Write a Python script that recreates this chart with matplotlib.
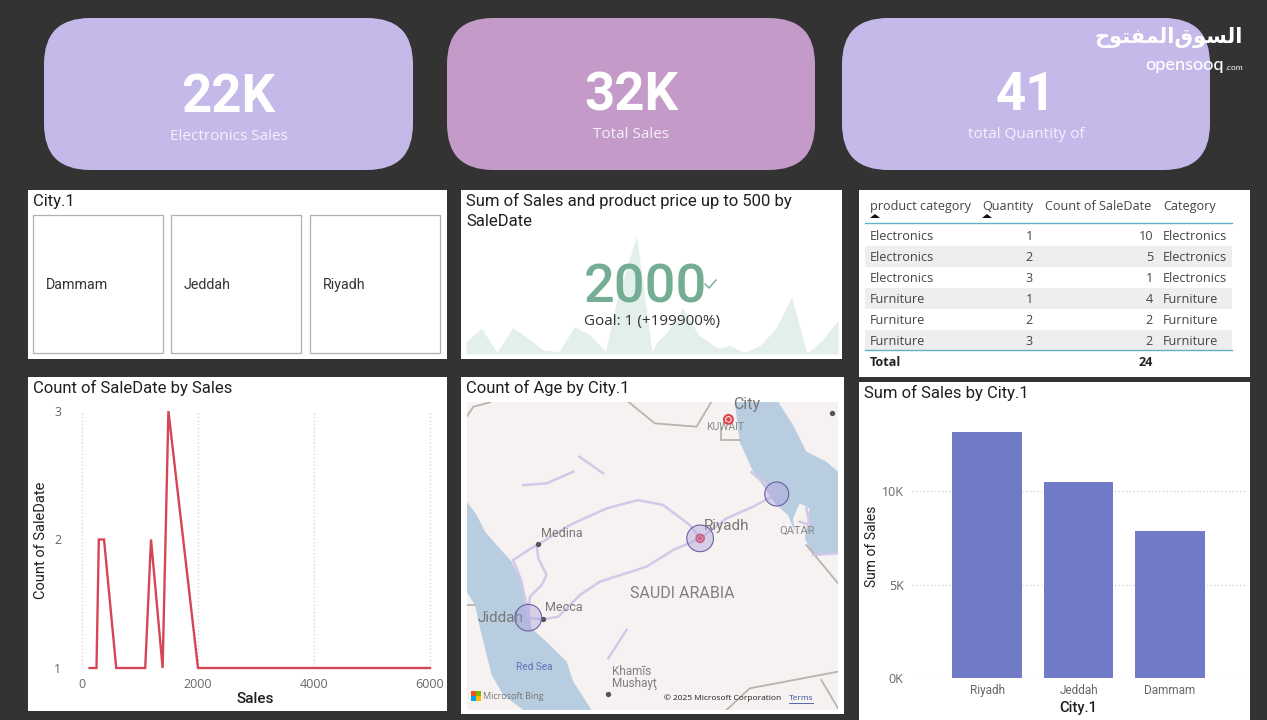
# -*- coding: utf-8 -*-
import matplotlib
matplotlib.use("Agg")
import matplotlib.pyplot as plt
from matplotlib.patches import FancyBboxPatch, Rectangle, Polygon

W, H = 1267, 720

# kpi cards
kpi_values = ["22K", "32K", "41"]
kpi_labels = ["Electronics Sales", "Total Sales", "total Quantity of"]

cities = ["Dammam", "Jeddah", "Riyadh"]

# sparkline behind the 2000 card
spark_days = [0, 4, 8, 12, 16, 20, 24, 28, 32, 36, 39, 44, 48, 49, 52, 56, 60, 65, 68, 72, 76, 80, 84, 88, 92, 96]
spark_sales = [630, 1310, 85, 1340, 800, 200, 120, 1390, 970, 120, 2840, 5980, 120, 540, 1140, 2330, 970, 290,
               425, 85, 460, 1310, 2920, 35, 710, 1730]

# table
table_header = ["product category", "Quantity", "Count of SaleDate", "Category"]
table_cat = ["Electronics", "Electronics", "Electronics", "Furniture", "Furniture", "Furniture"]
table_qty = [1, 2, 3, 1, 2, 3]
table_count = [10, 5, 1, 4, 2, 2]
table_total = 24

# line chart
line_sales = [130, 250, 290, 380, 590, 1090, 1190, 1390, 1490, 2000, 6000]
line_count = [1, 1, 2, 2, 1, 1, 2, 1, 3, 1, 1]

# bar chart
bar_city = ["Riyadh", "Jeddah", "Dammam"]
bar_sales = [13150, 10500, 7860]

# map shapes, in map units
red_sea = [(20, 380), (50, 420), (75, 470), (110, 510), (155, 560), (185, 620), (205, 690), (215, 760), (270, 810),
           (320, 860), (340, 920), (395, 1005), (190, 1005), (130, 960), (95, 900), (60, 760), (45, 690), (20, 650)]
gulf = [(825, 80), (955, 80), (1000, 150), (1040, 230), (1100, 260), (1135, 290), (1135, 535), (1060, 540),
        (1035, 490), (1050, 400), (1020, 385), (1000, 430), (1005, 470), (985, 420), (950, 390), (915, 340),
        (880, 290), (840, 200)]
roads = [
    [(160, 555), (205, 525), (235, 508), (330, 450), (440, 400), (535, 375), (610, 390), (690, 450), (721, 490)],
    [(230, 510), (235, 550), (260, 600), (245, 630), (210, 665), (205, 728), (250, 733), (295, 725), (360, 660),
     (420, 620), (560, 575), (640, 525), (721, 490)],
    [(160, 555), (185, 620), (205, 728)],
    [(721, 490), (800, 430), (880, 395), (951, 357), (875, 292)],
    [(190, 330), (260, 325), (340, 290)],
    [(358, 245), (430, 295)],
    [(500, 765), (445, 850)],
    [(1060, 540), (1135, 535)],
    [(1020, 440), (1050, 450), (1040, 400)],
]
borders = [
    [(20, 125), (40, 95), (90, 82)],
    [(505, 80), (585, 145), (710, 155), (755, 80)],
    [(785, 160), (785, 195), (840, 195)],
    [(1040, 510), (1135, 625)],
    [(800, 1005), (870, 940), (1135, 890)],
    [(1085, 915), (1135, 1000)],
    [(20, 690), (45, 690)],
]
map_labels = [("Medina", 305, 475, 9, "#777777"), ("Riyadh", 800, 452, 11, "#777777"),
              ("Mecca", 312, 698, 9, "#777777"), ("Jiddah", 122, 728, 11, "#777777"),
              ("City", 860, 88, 11.5, "#777777"), ("KUWAIT", 795, 157, 7.5, "#888888"),
              ("QATAR", 1012, 468, 8, "#888888"), ("SAUDI ARABIA", 667, 656, 11.5, "#808080"),
              ("Red Sea", 222, 875, 7.2, "#5a73b8")]
map_dots = [(235, 508), (250, 733), (445, 958), (1118, 115)]
bubble_x = [205, 721, 951]
bubble_y = [728, 490, 357]
bubble_s = [369, 369, 299]

BG = "#333333"
TITLE = "#1f1f1f"
GREY = "#666666"
FONT = ["Open Sans", "DejaVu Sans"]
TITLE_FONT = ["Roboto", "DejaVu Sans"]

plt.rcParams["font.family"] = FONT

fig = plt.figure(figsize=(W / 100, H / 100), dpi=100, facecolor=BG)


def px_axes(x0, y0, x1, y1, zorder=2):
    return fig.add_axes([x0 / W, 1 - y1 / H, (x1 - x0) / W, (y1 - y0) / H], zorder=zorder)


# page layer in pixel coordinates
page = px_axes(0, 0, W, H, zorder=0)
page.set_xlim(0, W)
page.set_ylim(H, 0)
page.axis("off")

# kpi cards along the top
card_x = [(44, 413), (447, 815), (842, 1210)]
card_col = ["#c5b9ea", "#c39ac8", "#c5b9ea"]
card_val_y = [98, 96, 96]
card_lab_y = [137, 134, 134]
R = 46
for i in range(3):
    x0, x1 = card_x[i]
    page.add_patch(FancyBboxPatch((x0 + R, 18 + R), x1 - x0 - 2 * R, 152 - 2 * R,
                                  boxstyle="round,pad=%d" % R, fc=card_col[i], ec="none"))
    xc = (x0 + x1) / 2
    page.text(xc, card_val_y[i], kpi_values[i], color="white", fontsize=38, fontweight="bold",
              ha="center", va="center", family=TITLE_FONT)
    page.text(xc, card_lab_y[i], kpi_labels[i], color="#f4f1fb", fontsize=11, ha="center", va="center")

# white panels
panels = [(28, 190, 447, 359), (461, 190, 842, 359), (859, 190, 1250, 377),
          (28, 377, 447, 711), (461, 377, 844, 714), (859, 382, 1250, 720)]
for x0, y0, x1, y1 in panels:
    page.add_patch(Rectangle((x0, y0), x1 - x0, y1 - y0, fc="white", ec="none"))

titles = [("City.1", 33, 206), ("Sum of Sales and product price up to 500 by", 466, 206), ("SaleDate", 466, 226),
          ("Count of SaleDate by Sales", 33, 393), ("Count of Age by City.1", 466, 393),
          ("Sum of Sales by City.1", 864, 398)]
for txt, x, y in titles:
    page.text(x, y, txt, color=TITLE, fontsize=12, ha="left", va="baseline", family=TITLE_FONT)

# slicer boxes
slicer_x = [(33, 163), (171, 301), (310, 440)]
for i in range(3):
    x0, x1 = slicer_x[i]
    page.add_patch(Rectangle((x0, 215), x1 - x0, 138, fc="white", ec="#b0b0b0", lw=0.9))
    page.text(x0 + 13, 285, cities[i], color="#333333", fontsize=10.3, ha="left", va="center", family=TITLE_FONT)

# sparkline card
spark = px_axes(466, 235, 838, 354, zorder=1)
spark.fill_between(spark_days, spark_sales, 0, color="#e3efea", lw=0)
spark.set_xlim(0, 96)
spark.set_ylim(0, 6050)
spark.axis("off")
over = px_axes(461, 190, 842, 359, zorder=3)
over.set_xlim(461, 842)
over.set_ylim(359, 190)
over.axis("off")
over.text(646, 288, "2000", color="#72ad94", fontsize=39, fontweight="medium", ha="center", va="center",
          family=TITLE_FONT)
over.plot([705, 709, 716], [284, 288, 280], color="#72ad94", lw=1)
over.text(652, 321, "Goal: 1 (+199900%)", color="#333333", fontsize=11, ha="center", va="center")

# table, text placed on its baseline
row_y = [240, 261, 282, 303, 324, 345]
col_left = [870, 982, 1045, 1163]
for i in range(4):
    page.text(col_left[i], 210, table_header[i], color="#444444", fontsize=9.1, ha="left", va="baseline")
for xt in [875, 987]:
    page.add_patch(Polygon([(xt - 5, 218), (xt + 5, 218), (xt, 214)], fc="#111111", ec="none"))
page.plot([865, 1232], [223, 223], color="#5fb0c8", lw=1)
for i in range(6):
    y = row_y[i]
    if i % 2 == 1:
        page.add_patch(Rectangle((865, y - 15), 367, 21, fc="#eeeeee", ec="none"))
    page.text(870, y, table_cat[i], color="#444444", fontsize=9.1, ha="left", va="baseline")
    page.text(1033, y, str(table_qty[i]), color="#444444", fontsize=9.1, ha="right", va="baseline")
    page.text(1153, y, str(table_count[i]), color="#444444", fontsize=9.1, ha="right", va="baseline")
    page.text(1163, y, table_cat[i], color="#444444", fontsize=9.1, ha="left", va="baseline")
page.plot([865, 1232], [350, 350], color="#5fb0c8", lw=1)
page.text(870, 366, "Total", color="#222222", fontsize=9.1, fontweight="bold", ha="left", va="baseline")
page.text(1153, 366, str(table_total), color="#222222", fontsize=9.1, fontweight="bold", ha="right", va="baseline")

# line chart
ax = px_axes(82, 411, 430, 668)
ax.plot(line_sales, line_count, color="#d64554", lw=1.7, solid_joinstyle="miter", clip_on=False)
ax.set_xlim(0, 6000)
ax.set_ylim(1, 3)
ax.set_xticks([0, 2000, 4000, 6000])
ax.set_yticks([1, 2, 3])
ax.grid(axis="x", color="#d8d8d8", ls=":", lw=1)
for g in ax.get_xgridlines():
    g.set_clip_on(False)
ax.tick_params(length=0, labelsize=9, labelcolor=GREY, pad=7)
for s in ax.spines.values():
    s.set_visible(False)
ax.tick_params(axis="y", pad=15)
ax.set_xlabel("Sales", fontsize=11, fontweight="medium", color=TITLE, family=TITLE_FONT, va="center")
ax.set_ylabel("Count of SaleDate", fontsize=10.5, color=TITLE, family=TITLE_FONT, va="center")
ax.xaxis.set_label_coords(0.498, -0.121)
ax.yaxis.set_label_coords(-0.118, 0.498)

# map
m = px_axes(466.7, 401.7, 838, 710)
m.set_facecolor("#f5f2f1")
m.add_patch(Polygon(red_sea, fc="#b9cde0", ec="none"))
m.add_patch(Polygon(gulf, fc="#b9cde0", ec="none"))
for line in borders:
    m.plot([p[0] for p in line], [p[1] for p in line], color="#b8b4ae", lw=1.3)
for r in roads:
    m.plot([p[0] for p in r], [p[1] for p in r], color="#d4c8e8", lw=1.8)
m.scatter([p[0] for p in map_dots], [p[1] for p in map_dots], s=8, color="#555555", zorder=3)
for txt, x, y, fs, col in map_labels:
    m.text(x, y, txt, fontsize=fs, color=col, ha="center", va="center", family=TITLE_FONT, zorder=3)
m.text(457, 888, "Khamīs", fontsize=8.5, color="#808080", ha="left", va="center", family=TITLE_FONT)
m.text(457, 926, "Mushayţ", fontsize=8.5, color="#808080", ha="left", va="center", family=TITLE_FONT)
m.scatter([806, 721], [133, 490], s=[40, 30], facecolor="none", edgecolor="#e0404a", lw=1.5, zorder=3)
m.scatter([806, 721], [133, 490], s=[5, 5], color="#e0404a", zorder=3)
m.scatter(bubble_x, bubble_y, s=bubble_s, facecolor="#a99bdc", edgecolor="none", alpha=0.4, zorder=4)
m.scatter(bubble_x, bubble_y, s=bubble_s, facecolor="none", edgecolor="#6b5fa0", lw=0.8, zorder=4)
for c, x, y in [("#f25022", 33, 948), ("#7fba00", 48, 948), ("#00a4ef", 33, 963), ("#ffb900", 48, 963)]:
    m.add_patch(Rectangle((x, y), 14, 14, fc=c, ec="none", zorder=5))
m.text(70, 963, "Microsoft Bing", fontsize=6.5, color="#777777", ha="left", va="center", zorder=5)
m.text(612, 969, "© 2025 Microsoft Corporation", fontsize=6, color="#222222", ha="left", va="center", zorder=5)
m.text(988, 969, "Terms", fontsize=6, color="#3a4fa0", ha="left", va="center", zorder=5)
m.plot([988, 1060], [983, 983], color="#3a4fa0", lw=0.6, zorder=5)
m.set_xlim(20, 1135)
m.set_ylim(1005, 80)
m.set_xticks([])
m.set_yticks([])
for s in m.spines.values():
    s.set_visible(False)

# bar chart
b = px_axes(912, 405, 1245, 678)
b.bar(bar_city, bar_sales, width=0.765, color="#717ac6", zorder=2)
b.set_xlim(-0.82, 2.82)
b.set_ylim(0, 14600)
b.set_yticks([0, 5000, 10000])
b.set_yticklabels(["0K", "5K", "10K"])
b.grid(axis="y", color="#d8d8d8", ls=":", lw=1, zorder=0)
b.tick_params(length=0, labelsize=9, labelcolor=GREY)
b.tick_params(axis="x", pad=4, labelsize=8.5)
b.tick_params(axis="y", pad=6)
for lab in b.get_xticklabels():
    lab.set_family(TITLE_FONT)
for s in b.spines.values():
    s.set_visible(False)
b.set_xlabel("City.1", fontsize=10.5, fontweight="medium", color=TITLE, family=TITLE_FONT, va="center")
b.set_ylabel("Sum of Sales", fontsize=10, color=TITLE, family=TITLE_FONT, va="center")
b.xaxis.set_label_coords(0.5, -0.11)
b.yaxis.set_label_coords(-0.12, 0.483)

# watermark, arabic presentation forms in visual order because matplotlib does not shape
top = px_axes(0, 0, W, H, zorder=5)
top.set_xlim(0, W)
top.set_ylim(H, 0)
top.axis("off")
logo = "\uFEA1\uFEEE\uFE98\uFED4\uFEE4\uFEDF\uFE8D\uFED5\uFEEE\uFEB4\uFEDF\uFE8D"
top.text(1243, 38, logo, color="white", fontsize=15, fontweight="bold", ha="right", va="center",
         family=["DejaVu Sans"])
top.text(1224, 65, "opensooq", color="white", fontsize=13, fontweight="medium", ha="right", va="center",
         family=["Lato", "DejaVu Sans"])
top.text(1243, 67.5, ".com", color="white", fontsize=6, ha="right", va="center", family=["Lato", "DejaVu Sans"])

fig.savefig("out.png", dpi=100, facecolor=BG)
